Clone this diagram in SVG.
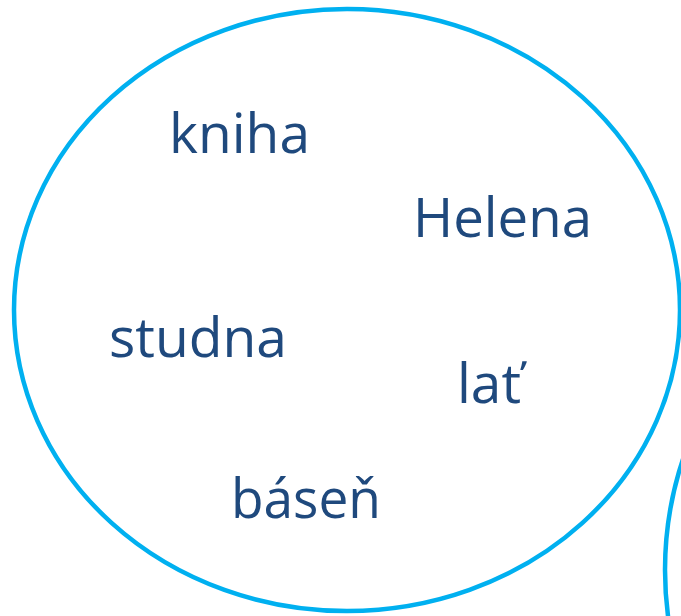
<svg xmlns="http://www.w3.org/2000/svg" width="681" height="616" viewBox="0 0 681 616">
<style>
.set{fill:none;stroke:#00B0F0;stroke-width:4.5}
.w{font-family:"Open Sans","Liberation Sans",sans-serif;font-size:55px;fill:#1F497D}
</style>
<rect width="681" height="616" fill="#ffffff"/>
<g id="set-main"><ellipse class="set" cx="347" cy="310" rx="333" ry="301"/></g>
<g id="set-second"><circle class="set" cx="1015" cy="570" r="350"/></g>
<g id="word-kniha"><text class="w" x="169" y="153" textLength="141" lengthAdjust="spacingAndGlyphs">kniha</text></g>
<g id="word-helena"><text class="w" x="413" y="237" textLength="179" lengthAdjust="spacingAndGlyphs">Helena</text></g>
<g id="word-studna"><text class="w" x="109" y="357" textLength="178" lengthAdjust="spacingAndGlyphs">studna</text></g>
<g id="word-lat"><text class="w" x="457" y="403" textLength="64" lengthAdjust="spacingAndGlyphs">lať</text></g>
<g id="word-basen"><text class="w" x="231" y="518" textLength="150" lengthAdjust="spacingAndGlyphs">báseň</text></g>
<g id="connectors"></g>
</svg>
